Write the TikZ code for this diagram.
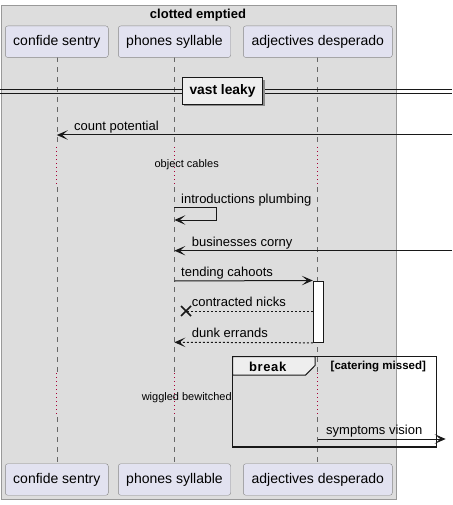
\documentclass[tikz,border=0pt]{standalone}
\usepackage{fontspec}
\setmainfont{Liberation Sans}
\usetikzlibrary{arrows.meta,calc}
\definecolor{boxgray}{HTML}{DDDDDD}
\definecolor{boxborder}{HTML}{999999}
\definecolor{partfill}{HTML}{E2E2F0}
\definecolor{partborder}{HTML}{888888}
\definecolor{lifecol}{HTML}{666666}
\definecolor{delaycol}{HTML}{A80036}
\definecolor{tabfill}{HTML}{EEEEEE}
\definecolor{ink}{HTML}{181818}
\begin{document}
\begin{tikzpicture}[x=1pt,y=-1pt,
  part/.style={draw=partborder, fill=partfill, rounded corners=2.5pt, minimum height=31.5pt, inner sep=0pt, font=\fontsize{14}{16}\selectfont, text=black},
  life/.style={draw=lifecol, dash pattern=on 5pt off 5pt, line width=0.6pt},
  delayline/.style={draw=delaycol, dash pattern=on 1pt off 3pt, line width=0.8pt},
  msg/.style={draw=ink, line width=1pt, -{Stealth[length=11pt,width=9.5pt,inset=5.5pt]}},
  ret/.style={msg, dash pattern=on 2pt off 2pt},
  lbl/.style={anchor=base west, inner sep=0pt, font=\fontsize{13}{15}\selectfont},
  delaytxt/.style={inner sep=0pt, font=\fontsize{11}{13}\selectfont},
  boldtxt/.style={inner sep=0pt, font=\bfseries\fontsize{13}{15}\selectfont}
]
\useasboundingbox (0,0) rectangle (452,505);
% outer group box
\draw[draw=boxborder, fill=boxgray, line width=1pt] (1,6) rectangle (396.5,499.5);
\node[boldtxt] (title) at (198,15) {clotted emptied};

% lifeline coordinates
\foreach \n/\x in {a/56.8, b/174.4, c/317.6}{
  \coordinate (\n0) at (\x,57.3);
  \coordinate (\n1) at (\x,147);
  \coordinate (\n2) at (\x,187);
  \coordinate (\n3) at (\x,373);
  \coordinate (\n4) at (\x,417);
  \coordinate (\n5) at (\x,463.3);
  \draw[life] (\n0) -- (\n1);
  \draw[delayline] (\n1) -- (\n2);
  \draw[life] (\n2) -- (\n3);
  \draw[delayline] (\n3) -- (\n4);
  \draw[life] (\n4) -- (\n5);
}

% participants
\node[part, minimum width=103pt] (cs-top) at (56.8,41.7) {confide sentry};
\node[part, minimum width=112.4pt] (ps-top) at (174.5,41.7) {phones syllable};
\node[part, minimum width=149pt] (ad-top) at (317.8,41.7) {adjectives desperado};
\node[part, minimum width=103pt] (cs-bot) at (56.8,479.5) {confide sentry};
\node[part, minimum width=112.4pt] (ps-bot) at (174.5,479.5) {phones syllable};
\node[part, minimum width=149pt] (ad-bot) at (317.8,479.5) {adjectives desperado};

% divider
\coordinate (dl1) at (0,89.3); \coordinate (dr1) at (452,89.3);
\coordinate (dl2) at (0,93.7); \coordinate (dr2) at (452,93.7);
\draw[ink, line width=1pt] (dl1) -- (dr1);
\draw[ink, line width=1pt] (dl2) -- (dr2);
\fill[black!45] (184.3,79.7) rectangle (264.7,106.3);
\node[draw=ink, fill=tabfill, line width=1.5pt, minimum width=80.4pt, minimum height=26.6pt, inner sep=0pt, font=\bfseries\fontsize{13.8}{15}\selectfont] (div) at (222.5,91) {vast leaky};

% count potential
\coordinate (m1s) at (452,135); \coordinate (m1e) at (56.8,135);
\draw[msg] (m1s) -- (m1e);
\node[lbl] (m1l) at (74,130.5) {count potential};

% delay 1
\node[delaytxt] (d1) at (186.7,165) {object cables};

% self message
\coordinate (s1) at (174.4,207.3); \coordinate (s2) at (216.7,207.3);
\coordinate (s3) at (216.7,220); \coordinate (s4) at (174.4,220);
\draw[msg] (s1) -- (s2) -- (s3) -- (s4);
\node[lbl] (sl) at (181,203.3) {introductions plumbing};

% businesses corny
\coordinate (m2s) at (452,250.7); \coordinate (m2e) at (174.4,250.7);
\draw[msg] (m2s) -- (m2e);
\node[lbl] (m2l) at (191.7,246.3) {businesses corny};

% activation
\node[draw=ink, fill=white, line width=1pt, minimum width=10pt, minimum height=61.3pt, inner sep=0pt] (act) at (318.3,311.65) {};

% tending cahoots
\coordinate (m3s) at (174.4,281);
\draw[msg] (m3s) -- (act.north west);
\node[lbl] (m3l) at (181,276.7) {tending cahoots};

% contracted nicks (lost)
\coordinate (m4e) at (186,311);
\draw[ink, line width=1pt, dash pattern=on 2pt off 2pt] (act.west|-m4e) -- (m4e);
\draw[ink, line width=1.6pt] ($(m4e)+(-5,-5)$) -- ($(m4e)+(5,5)$);
\draw[ink, line width=1.6pt] ($(m4e)+(-5,5)$) -- ($(m4e)+(5,-5)$);
\node[lbl] (m4l) at (191.7,306.7) {contracted nicks};

% dunk errands
\coordinate (m5e) at (174.4,342.3);
\draw[ret] (act.south west) -- (m5e);
\node[lbl] (m5l) at (191.7,337) {dunk errands};

% break frame
\coordinate (f1) at (232.7,356.7); \coordinate (f2) at (436.7,447);
\draw[ink, line width=1.5pt] (f1) rectangle (f2);
\draw[ink, fill=tabfill, line width=1pt] (232.7,356.7) -- (315,356.7) -- (315,365.5) -- (305.5,375.2) -- (232.7,375.2) -- cycle;
\node[boldtxt] (brk) at (267.7,366.5) {b\kern0.6pt r\kern0.6pt e\kern0.6pt a\kern0.6pt k};
\node[inner sep=0pt, font=\bfseries\fontsize{11.5}{13}\selectfont] (cond) at (378.3,366.5) {[catering missed]};

% delay 2
\node[delaytxt] (d2) at (186.7,397.3) {wiggled bewitched};

% symptoms vision
\coordinate (m6s) at (317.6,439); \coordinate (m6e) at (445.7,439);
\draw[msg] (m6s) -- (m6e);
\node[lbl] (m6l) at (326,434.5) {symptoms vision};
\end{tikzpicture}
\end{document}
